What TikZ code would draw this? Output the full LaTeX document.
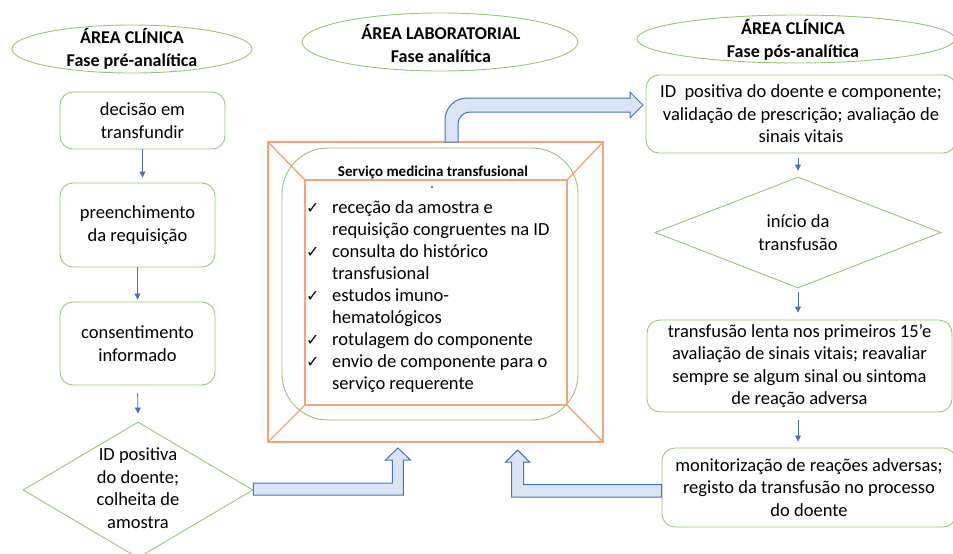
\documentclass[tikz,border=0pt]{standalone}
\usepackage{fontspec}
\setmainfont{Carlito}
\newfontfamily\checkfont{DejaVu Sans}
\usetikzlibrary{positioning,shapes.geometric,arrows.meta,calc}

\definecolor{boxgreen}{RGB}{150,198,122}
\definecolor{frameorange}{RGB}{243,165,118}
\definecolor{arrowblue}{RGB}{72,114,190}
\definecolor{arrowfill}{RGB}{218,228,244}

\newcommand{\tick}{{\checkfont\fontsize{16}{16}\selectfont ✓}}

\tikzset{
  phase/.style={draw=boxgreen, ellipse, line width=0.9pt, inner sep=0pt},
  phasetext/.style={align=center, inner sep=0pt, font=\fontsize{18}{23}\selectfont\bfseries},
  stepbox/.style={draw=boxgreen, line width=0.9pt, rounded corners=13pt, align=center, inner sep=0pt, font=\fontsize{18.5}{22.5}\selectfont},
  decision/.style={draw=boxgreen, line width=0.9pt, diamond, inner sep=0pt},
  decisiontext/.style={align=center, inner sep=0pt, font=\fontsize{18.5}{22.5}\selectfont},
  flow/.style={arrowblue, line width=0.8pt, -{Triangle[width=6pt,length=6pt]}},
  bigarrow/.style={draw=arrowblue, fill=arrowfill, line width=1pt},
  frame/.style={draw=frameorange, line width=1.4pt, inner sep=0pt}
}

\begin{document}
\begin{tikzpicture}[x=1pt,y=-1pt]
\useasboundingbox (0,0) rectangle (953,554);
\clip (0,0) rectangle (953,554);

% fases
\node[phase, minimum width=240pt, minimum height=48pt] (hdrpre) at (132,49) {};
\node[phasetext] (hdrpretxt) at (hdrpre.center) {ÁREA CLÍNICA\\Fase pré-analítica};
\node[phase, minimum width=276pt, minimum height=58pt] (hdrlab) at (440,42) {};
\node[phasetext] (hdrlabtxt) at (441,44) {ÁREA LABORATORIAL\\Fase analítica};
\node[phase, minimum width=318pt, minimum height=48pt] (hdrpost) at (796,39) {};
\node[phasetext] (hdrposttxt) at (793,40) {ÁREA CLÍNICA\\Fase pós-analítica};

% coluna pre-analitica
\node[stepbox, minimum width=165pt, minimum height=57pt] (decide) at (142.5,120.5) {decisão em\\transfundir};
\node[stepbox, minimum width=155pt, minimum height=84pt] (request) at (137.5,225) {preenchimento\\da requisição};
\node[stepbox, minimum width=155pt, minimum height=83pt] (consent) at (137.5,343.5) {consentimento\\informado};
\node[decision, minimum width=230pt, minimum height=136pt] (idcheck) at (138,490) {};
\node[decisiontext] (idchecktxt) at (138,488) {ID positiva\\do doente;\\colheita de\\amostra};

\draw[flow, shorten >=5pt] (decide.south) -- (decide.south |- request.north);
\draw[flow, shorten >=2pt] (request.south) -- (request.south |- consent.north);
\draw[flow, shorten <=8pt, shorten >=8pt] (consent.south) -- (idcheck.north);

% servico medicina transfusional
\node[draw=boxgreen, line width=0.9pt, rounded corners=46pt, minimum width=296pt, minimum height=272pt] (labround) at (430,284) {};
\node[frame, minimum width=335pt, minimum height=300pt] (lab) at (435.5,292) {};
\node[frame, minimum width=262pt, minimum height=225pt] (labin) at (436,292.5) {};
\foreach \c in {north west,north east,south west,south east}
  \draw[frameorange, line width=1.4pt] (lab.\c) -- (labin.\c);
\node[font=\fontsize{15}{16}\selectfont\bfseries, anchor=base, inner sep=0pt] (labtitle) at (433,176.5) {Serviço medicina transfusional};
\fill (432,187) circle (0.9pt);
\node[anchor=base west, inner sep=0pt, font=\fontsize{18.5}{22}\selectfont] (labtasks) at (306,213)
  {\begin{tabular}[t]{@{}p{26pt}@{}l@{}}
   \tick & receção da amostra e\\
   & requisição congruentes na ID\\
   \tick & consulta do histórico\\
   & transfusional\\
   \tick & estudos imuno-\\
   & hematológicos\\
   \tick & rotulagem do componente\\
   \tick & envio de componente para o\\
   & serviço requerente
   \end{tabular}};

% coluna pos-analitica
\node[stepbox, minimum width=310pt, minimum height=78pt] (idpos) at (801,114) {ID\ \ positiva do doente e componente;\\validação de prescrição; avaliação de\\sinais vitais};
\node[decision, minimum width=286pt, minimum height=111pt] (startR) at (798,232.5) {};
\node[decisiontext] (startRtxt) at (startR.center) {início da\\transfusão};
\node[stepbox, minimum width=305pt, minimum height=92pt] (slowtx) at (799.5,366) {transfusão lenta nos primeiros 15’e\\avaliação de sinais vitais; reavaliar\\sempre se algum sinal ou sintoma\\de reação adversa};
\node[stepbox, minimum width=294pt, minimum height=79pt] (monitor) at (809,487.5) {monitorização de reações adversas;\\registo da transfusão no processo\\do doente};

\draw[flow, shorten <=5pt, shorten >=6pt] (idpos.south -| startR.north) -- (startR.north);
\draw[flow, shorten <=4pt, shorten >=7pt] (startR.south) -- (startR.south |- slowtx.north);
\draw[flow, shorten <=8pt, shorten >=6pt] (slowtx.south -| startR.south) -- (monitor.north -| startR.south);

% setas largas
\draw[bigarrow] (idcheck.east) ++(0,-7) -- ++(139,0) -- ++(0,-23) -- ++(-7,0) -- ++(12.5,-12)
  -- ++(12.5,12) -- ++(-7,0) -- ++(0,35) -- ++(-150,0) -- cycle;
\draw[bigarrow] (monitor.west) ++(0,-3) -- ++(-138,0) -- ++(0,-22.5) -- ++(6,0) -- ++(-12,-12)
  -- ++(-12,12) -- ++(6,0) -- ++(0,35) -- ++(150,0) -- cycle;
\draw[bigarrow] (445,142) -- (445,120) .. controls (445,107.8) and (454.8,98) .. (467,98)
  -- (630,98) -- (630,92) -- (643,105) -- (630,118) -- (630,112) -- (470,112)
  .. controls (463.4,112) and (458,117.4) .. (458,124) -- (458,142) -- cycle;
\end{tikzpicture}
\end{document}
